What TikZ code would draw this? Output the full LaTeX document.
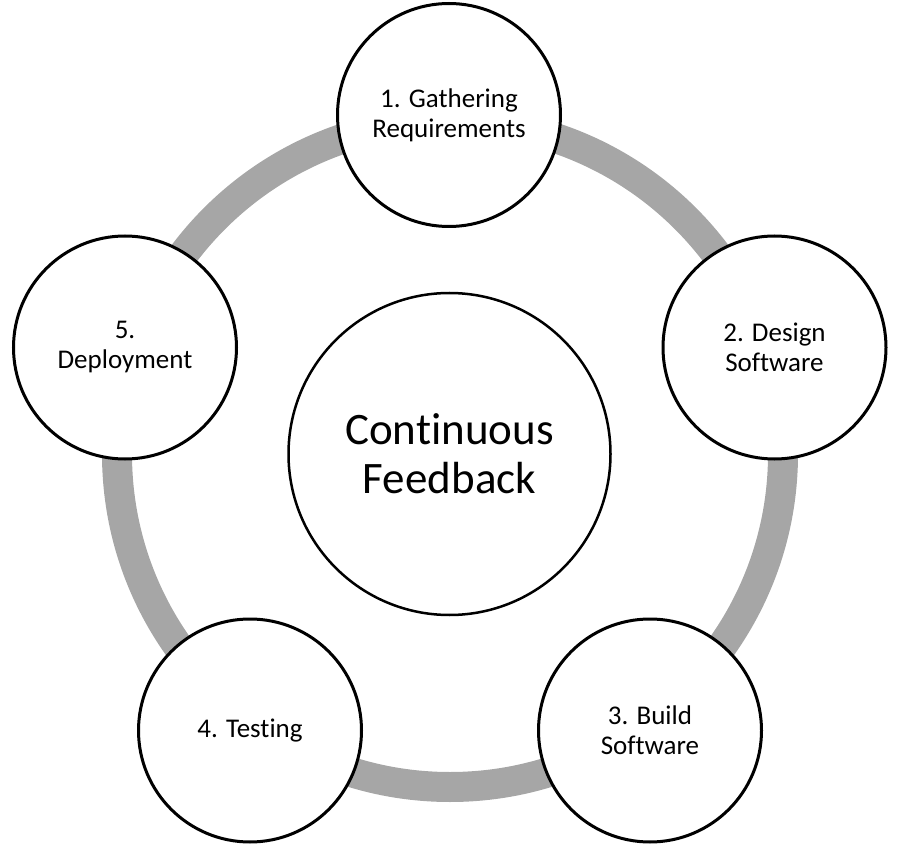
\documentclass[tikz,border=0pt]{standalone}
\usepackage{fontspec}
\setmainfont[RawFeature={-liga}]{Carlito}
\definecolor{ringgray}{HTML}{A6A6A6}
\tikzset{
  stage/.style={circle, draw=black, line width=3pt, fill=white, minimum size=223pt, inner sep=0pt, align=center, font=\fontsize{27}{30}\selectfont},
  hub/.style={circle, draw=black, line width=2.5pt, fill=white, minimum size=322pt, inner sep=0pt, align=center, font=\fontsize{45}{49}\selectfont},
  ringline/.style={draw=ringgray, line width=30pt}
}
\begin{document}
\begin{tikzpicture}[x=1pt, y=-1pt]
\useasboundingbox (0,0) rectangle (900,850);
\coordinate (rc) at (450,454);
\draw[ringline] (rc) circle (333);
\node[hub] (hub) at (449.5,454) {Continuous\\Feedback};
\node[stage] (s1) at (449,115) {1. Gathering\\Requirements};
\node[stage] (s2) at (774.5,347.5) {2. Design\\Software};
\node[stage] (s3) at (650,730.5) {3. Build\\Software};
\node[stage] (s4) at (250,730.5) {4. Testing};
\node[stage] (s5) at (125,347.5) {5.\\Deployment};
\end{tikzpicture}
\end{document}
